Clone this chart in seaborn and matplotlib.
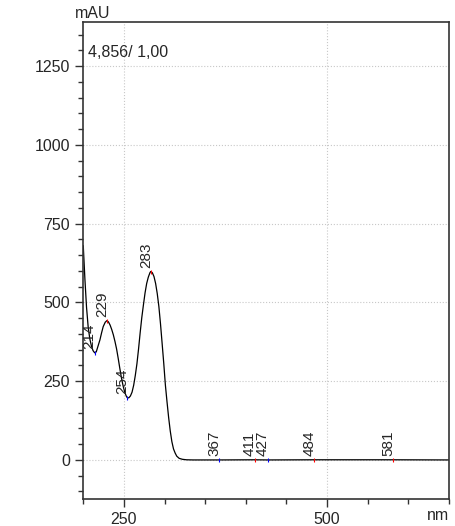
import numpy as np
import pandas as pd
import matplotlib
matplotlib.use("Agg")
import matplotlib.pyplot as plt
import seaborn as sns
from matplotlib.ticker import MultipleLocator

# spectrum (nm, mAU)
wavelength = [200, 202, 204, 206, 208, 210, 212, 214, 216, 218, 220.5, 222.5, 224.5, 227, 229,
              231, 233, 235, 237, 239, 241, 243, 245, 247, 249, 251, 253, 254, 256, 258, 260,
              262, 264, 266, 268, 270, 272, 274, 276, 278, 280, 282, 283, 285, 287, 289, 291,
              293, 295, 297, 299, 301, 303, 305, 307, 309, 311, 313, 315, 318, 322, 327, 335,
              367, 411, 427, 484, 581, 650]
absorbance = [680, 575, 485, 423, 385, 362, 347, 340, 343, 360, 381, 403, 423, 437, 442,
              438, 428, 414, 397, 376, 352, 322, 290, 260, 235, 215, 202, 198, 197, 203, 215,
              237, 268, 305, 352, 404, 452, 492, 530, 560, 580, 594, 598, 594, 582, 560, 528,
              487, 432, 370, 307, 238, 185, 135, 92, 58, 35, 22, 12, 5, 2, 0.5, 0,
              0, 0.5, 0, 0.5, 0.5, 0]

# peak / valley labels
peak_nm = [214, 229, 254, 283, 367, 411, 427, 484, 581]
peak_mau = [340, 442, 198, 598, 0, 0.5, 0, 0.5, 0.5]
peak_kind = ["min", "max", "min", "max", "min", "max", "min", "max", "max"]

header = "4,856/ 1,00"

sns.set_style("ticks")
plt.rcParams['font.family'] = ['Liberation Sans', 'DejaVu Sans']
fs = 11.5

fig = plt.figure(figsize=(4.55, 5.26), dpi=100)
ax = fig.add_axes([0.183, 0.0513, 0.804, 0.907])

df = pd.DataFrame({"nm": wavelength, "mAU": absorbance})
sns.lineplot(data=df, x="nm", y="mAU", color="black", linewidth=0.9, ax=ax, sort=False)

for x, y, k in zip(peak_nm, peak_mau, peak_kind):
    c = "red" if k == "max" else "blue"
    ax.plot([x], [y], marker="|", color=c, markersize=3, markeredgewidth=0.8)
    ax.annotate(str(x), (x, y), xytext=(1.5, 2.5), textcoords="offset points",
                rotation=90, ha="right", va="bottom", fontsize=11)

ax.set_xlim(200, 650)
ax.set_ylim(-124, 1390)
ax.xaxis.set_major_locator(MultipleLocator(250))
ax.xaxis.set_minor_locator(MultipleLocator(50))
ax.yaxis.set_major_locator(MultipleLocator(250))
ax.yaxis.set_minor_locator(MultipleLocator(50))
ax.tick_params(which="major", length=6, width=1, color="#333333", labelsize=fs)
ax.tick_params(which="minor", length=3.5, width=1, color="#333333")
ax.grid(True, which="major", linestyle=":", color="#c8c8c8", linewidth=0.8)
for s in ax.spines.values():
    s.set_color("#333333")
    s.set_linewidth(1.2)

ax.set_xlabel("")
ax.set_ylabel("")
ax.text(212, 1392, "mAU", ha="center", va="bottom", fontsize=fs)
ax.text(1.0, -0.044, "nm", transform=ax.transAxes, ha="right", va="baseline", fontsize=fs)
ax.text(0.012, 0.935, header, transform=ax.transAxes, ha="left", va="center", fontsize=fs)

fig.savefig("out.png", dpi=100)
